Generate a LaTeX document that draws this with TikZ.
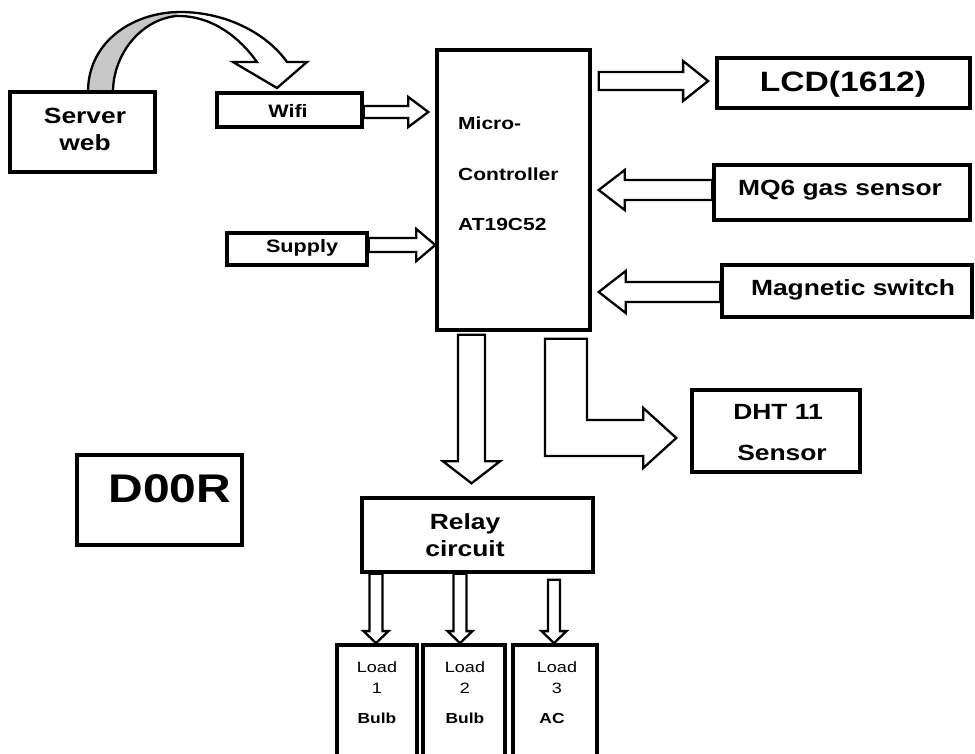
\documentclass[tikz,border=0pt]{standalone}
\usepackage{fontspec}
\newfontfamily\af[FakeStretch=1.2]{Liberation Sans}
\usetikzlibrary{calc}
\tikzset{
  box/.style={draw=black, line width=3.4pt, fill=white, inner sep=0pt, rectangle},
  blockarrow/.style={draw=black, line width=2.3pt, fill=white, line join=miter},
  txt/.style={inner sep=0pt, font=\af\bfseries, text=black},
}
% horizontal block arrow: #1 tail, #2 tip, #3 shaft half, #4 head half, #5 signed head length
\newcommand\HArrow[5]{\draw[blockarrow] let \p1=(#1), \p2=(#2) in
  (\x1,{\y1+#3}) -- ({\x2-(#5)},{\y1+#3}) -- ({\x2-(#5)},{\y1+#4}) -- (\x2,\y1)
  -- ({\x2-(#5)},{\y1-#4}) -- ({\x2-(#5)},{\y1-#3}) -- (\x1,{\y1-#3}) -- cycle;}
% vertical (downward) block arrow
\newcommand\VArrow[5]{\draw[blockarrow] let \p1=(#1), \p2=(#2) in
  ({\x1-#3},\y1) -- ({\x1-#3},{\y2+#5}) -- ({\x1-#4},{\y2+#5}) -- (\x1,\y2)
  -- ({\x1+#4},{\y2+#5}) -- ({\x1+#3},{\y2+#5}) -- ({\x1+#3},\y1) -- cycle;}
\begin{document}
\begin{tikzpicture}[x=1pt,y=-1pt]
\useasboundingbox (0,0) rectangle (975,753);
\clip (0,0) rectangle (975,753);
\fill[white] (0,0) rectangle (975,753);

% curved arrow server -> wifi
\path[fill=white] (88,92) .. controls (88,40) and (135,12) .. (180,12)
  .. controls (228,12) and (268,35) .. (287,62) -- (307,62) -- (277,88) -- (233,62) -- (257,62)
  .. controls (240,38) and (212,15) .. (176,16) .. controls (140,20) and (113,55) .. (113,92) -- cycle;
\path[fill=black!22] (88,92) .. controls (88,40) and (135,12) .. (180,12) -- (176,16)
  .. controls (140,20) and (113,55) .. (113,92) -- cycle;
\draw[line width=2.3pt, line join=miter] (88,92) .. controls (88,40) and (135,12) .. (180,12)
  .. controls (228,12) and (268,35) .. (287,62) -- (307,62) -- (277,88) -- (233,62) -- (257,62)
  .. controls (240,38) and (212,15) .. (176,16) .. controls (140,20) and (113,55) .. (113,92);

% boxes
\node[box, minimum width=145pt, minimum height=80pt] (srv) at (82.5,132) {};
\node[box, minimum width=145pt, minimum height=34pt] (wifi) at (289.5,110) {};
\node[box, minimum width=140pt, minimum height=32pt] (supply) at (297,249) {};
\node[box, minimum width=153pt, minimum height=280pt] (mcu) at (513.5,190) {};
\node[box, line width=3.8pt, minimum width=253pt, minimum height=50pt] (lcd) at (843.5,83) {};
\node[box, minimum width=256pt, minimum height=55pt] (mq6) at (842,192.5) {};
\node[box, minimum width=250pt, minimum height=52pt] (mag) at (847,291) {};
\node[box, minimum width=168pt, minimum height=82pt] (dht) at (776,431) {};
\node[box, minimum width=165pt, minimum height=90pt] (door) at (159.5,500) {};
\node[box, minimum width=231pt, minimum height=74pt] (relay) at (477.5,535) {};
\node[box, line width=3.8pt, minimum width=80pt, minimum height=130pt] (load1) at (377,710) {};
\node[box, line width=3.8pt, minimum width=82pt, minimum height=130pt] (load2) at (464,710) {};
\node[box, line width=3.8pt, minimum width=84pt, minimum height=130pt] (load3) at (555,710) {};

% texts
\node[txt, align=center, font=\af\bfseries\fontsize{22}{27}\selectfont] (srvT) at (85,129) {Server\\web};
\node[txt, font=\af\bfseries\fontsize{18}{22}\selectfont] (wifiT) at (288,111) {Wifi};
\node[txt, font=\af\bfseries\fontsize{18}{22}\selectfont] (supplyT) at (302,248) {Supply};
\node[txt, anchor=west, font=\af\bfseries\fontsize{17.5}{21}\selectfont] (mcuA) at (458,123) {Micro-};
\node[txt, anchor=west, font=\af\bfseries\fontsize{17.5}{21}\selectfont] (mcuB) at (458,174) {Controller};
\node[txt, anchor=west, font=\af\bfseries\fontsize{17.5}{21}\selectfont] (mcuC) at (458,224) {AT19C52};
\node[txt, font=\af\bfseries\fontsize{28}{32}\selectfont] (lcdT) at (843,84) {LCD(1612)};
\node[txt, font=\af\bfseries\fontsize{22}{26}\selectfont] (mq6T) at (840,190) {MQ6 gas sensor};
\node[txt, font=\af\bfseries\fontsize{22}{26}\selectfont] (magT) at (853,290) {Magnetic switch};
\node[txt, font=\af\bfseries\fontsize{22}{26}\selectfont] (dhtA) at (778,412) {DHT 11};
\node[txt, font=\af\bfseries\fontsize{22}{26}\selectfont] (dhtB) at (782,453) {Sensor};
\node[txt, font=\af\bfseries\fontsize{40}{46}\selectfont] (doorT) at (170,489) {D00R};
\node[txt, align=center, font=\af\bfseries\fontsize{22}{27}\selectfont] (relayT) at (465,535) {Relay\\circuit};
\foreach \n/\x/\num/\what/\wx in {1/377/1/Bulb/377, 2/465/2/Bulb/465, 3/557/3/AC/552}{
  \node[txt, font=\af\fontsize{15}{18}\selectfont] (lA\n) at (\x,667) {Load};
  \node[txt, font=\af\fontsize{15}{18}\selectfont] (lB\n) at (\x,688) {\num};
  \node[txt, font=\af\bfseries\fontsize{14.5}{18}\selectfont] (lC\n) at (\wx,718) {\what};
}

% block arrows
\HArrow{$(wifi.east)+(0,2)$}{$(mcu.west|-wifi.east)+(-7,2)$}{6}{15}{20}
\HArrow{$(supply.east)+(0,-4)$}{$(mcu.west|-supply.east)+(0,-4)$}{7}{16}{19}
\HArrow{$(mcu.east|-lcd.west)+(7,-2)$}{$(lcd.west)+(-7,-2)$}{9}{20}{25}
\HArrow{$(mq6.west)+(0,-2.5)$}{$(mcu.east|-mq6.west)+(7,-2.5)$}{10}{20}{-26}
\HArrow{$(mag.west)+(0,1)$}{$(mcu.east|-mag.west)+(7,1)$}{10}{21}{-27}
\VArrow{$(mcu.south)+(-42,3)$}{$(relay.north)+(0,-13)$}{13.5}{28.5}{22}
\draw[blockarrow] let \p1=(mcu.south), \p2=(dht.west) in
  (\x1+31.5,\y1-7) -- (\x1+73.5,\y1-7) -- (\x1+73.5,\y2+11) -- (\x2-47,\y2+11)
  -- (\x2-47,\y2+23) -- (\x2-14,\y2-7) -- (\x2-47,\y2-37) -- (\x2-47,\y2-25)
  -- (\x1+31.5,\y2-25) -- cycle;
\VArrow{$(relay.south)+(-101.5,0)$}{load1.north}{6.5}{12.5}{12}
\VArrow{$(relay.south)+(-17.5,0)$}{load2.north}{6.5}{12.5}{12}
\VArrow{$(relay.south)+(76.5,6)$}{load3.north}{6}{12.5}{12}
\end{tikzpicture}
\end{document}
